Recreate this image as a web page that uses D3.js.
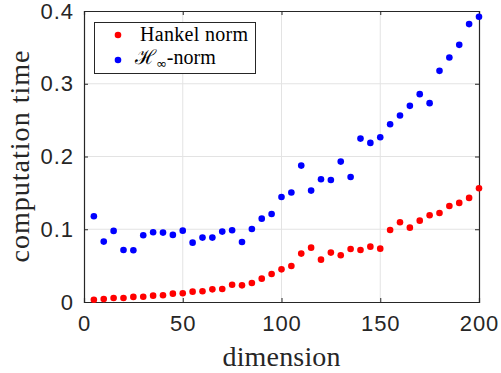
<!DOCTYPE html>
<html>
<head>
<meta charset="utf-8">
<script src="https://cdn.jsdelivr.net/npm/d3@7"></script>
<style>
  body { margin: 0; background: #fff; }
  svg { display: block; }
</style>
</head>
<body>
<div id="vis"></div>
<script>
// dimensions 5..200 step 5
var dims = [5, 10, 15, 20, 25, 30, 35, 40, 45, 50, 55, 60, 65, 70, 75, 80, 85, 90, 95, 100,
  105, 110, 115, 120, 125, 130, 135, 140, 145, 150, 155, 160, 165, 170, 175, 180, 185, 190, 195, 200];

var hankelTimes = [0.003, 0.004, 0.0055, 0.0055, 0.007, 0.0073, 0.0087, 0.0092, 0.0115, 0.012,
  0.0142, 0.0147, 0.0174, 0.0179, 0.0238, 0.0229, 0.0261, 0.0321, 0.0385, 0.0449,
  0.0495, 0.0665, 0.0747, 0.0582, 0.0679, 0.0642, 0.0729, 0.0715, 0.0761, 0.0733,
  0.0990, 0.1096, 0.1022, 0.1118, 0.1192, 0.1224, 0.1320, 0.1362, 0.1431, 0.1563];

var hinfTimes = [0.1179, 0.0830, 0.0977, 0.0715, 0.0711, 0.0917, 0.0959, 0.0954, 0.0922, 0.0981,
  0.0816, 0.0885, 0.0885, 0.0968, 0.0986, 0.0825, 0.1004, 0.1146, 0.1210, 0.1444,
  0.1506, 0.1875, 0.1531, 0.1688, 0.1678, 0.1930, 0.1719, 0.2246, 0.2187, 0.2265,
  0.2444, 0.2563, 0.2696, 0.2857, 0.2733, 0.3177, 0.3360, 0.3535, 0.3820, 0.3920];

var xTicks = [0, 50, 100, 150, 200];
var yTicks = [0, 0.1, 0.2, 0.3, 0.4];

var width = 501, height = 373;
var margin = {top: 11, right: 22, bottom: 71, left: 84};
var axisColor = "#262626";

var svg = d3.select("#vis").append("svg").attr("width", width).attr("height", height);

var x = d3.scaleLinear().domain([0, 200]).range([margin.left, width - margin.right]);
var y = d3.scaleLinear().domain([0, 0.4]).range([height - margin.bottom, margin.top]);

//grid
var grid = svg.append("g");
grid.selectAll(".gx").data(xTicks.slice(1, -1)).enter().append("line")
  .attr("x1", d => x(d)).attr("x2", d => x(d))
  .attr("y1", y(0)).attr("y2", y(0.4))
  .attr("stroke", "#e3e3e3").attr("stroke-width", 1);
grid.selectAll(".gy").data(yTicks.slice(1, -1)).enter().append("line")
  .attr("y1", d => y(d)).attr("y2", d => y(d))
  .attr("x1", x(0)).attr("x2", x(200))
  .attr("stroke", "#e3e3e3").attr("stroke-width", 1);

//axes, ticks inside, box on
var xAxisB = d3.axisBottom(x).tickValues(xTicks).tickSize(-4).tickPadding(13).tickFormat(d3.format("d"));
var xAxisT = d3.axisTop(x).tickValues(xTicks).tickSize(-4).tickFormat("");
var yAxisL = d3.axisLeft(y).tickValues(yTicks).tickSize(-4).tickPadding(10).tickFormat(d => d === 0 ? "0" : d3.format(".1f")(d));
var yAxisR = d3.axisRight(y).tickValues(yTicks).tickSize(-4).tickFormat("");

function styleAxis(g) {
  g.selectAll("path").attr("stroke", axisColor).attr("stroke-width", 1.2);
  g.selectAll("line").attr("stroke", axisColor);
  g.selectAll("text").attr("fill", axisColor)
    .style("font-family", "'Liberation Sans', Arial, sans-serif").style("font-size", "22px")
    .style("letter-spacing", "1px");
}

svg.append("g").attr("transform", "translate(0," + y(0) + ")").call(xAxisB).call(styleAxis);
svg.append("g").attr("transform", "translate(0," + y(0.4) + ")").call(xAxisT).call(styleAxis);
svg.append("g").attr("transform", "translate(" + x(0) + ",0)").call(yAxisL).call(styleAxis);
svg.append("g").attr("transform", "translate(" + x(200) + ",0)").call(yAxisR).call(styleAxis);

//points
svg.append("g").selectAll("circle").data(dims).enter().append("circle")
  .attr("cx", d => x(d)).attr("cy", (d, i) => y(hankelTimes[i]))
  .attr("r", 3.3).attr("fill", "#ff0000");
svg.append("g").selectAll("circle").data(dims).enter().append("circle")
  .attr("cx", d => x(d)).attr("cy", (d, i) => y(hinfTimes[i]))
  .attr("r", 3.3).attr("fill", "#0000ff");

//axis labels
var serif = "'Liberation Serif', 'Times New Roman', serif";
svg.append("text")
  .attr("x", (x(0) + x(200)) / 2).attr("y", 366)
  .attr("text-anchor", "middle")
  .attr("textLength", 118).attr("lengthAdjust", "spacing")
  .style("font-family", serif).style("font-size", "28px").attr("fill", axisColor)
  .text("dimension");
svg.append("text")
  .attr("transform", "translate(29," + ((y(0) + y(0.4)) / 2) + ") rotate(-90)")
  .attr("text-anchor", "middle")
  .attr("textLength", 212).attr("lengthAdjust", "spacing")
  .style("font-family", serif).style("font-size", "28px").attr("fill", axisColor)
  .text("computation time");

//legend
var legend = svg.append("g");
legend.append("rect")
  .attr("x", 94.5).attr("y", 22.5).attr("width", 161).attr("height", 51)
  .attr("fill", "#fff").attr("stroke", axisColor).attr("stroke-width", 1);
legend.append("circle").attr("cx", 118).attr("cy", 35).attr("r", 3.3).attr("fill", "#ff0000");
legend.append("circle").attr("cx", 118).attr("cy", 60).attr("r", 3.3).attr("fill", "#0000ff");
legend.append("text").attr("x", 140).attr("y", 40.5)
  .attr("textLength", 108).attr("lengthAdjust", "spacing")
  .style("font-family", serif).style("font-size", "20px").attr("fill", "#000")
  .text("Hankel norm");
var t2 = legend.append("text").attr("x", 135).attr("y", 64)
  .style("font-family", serif).style("font-size", "20px").attr("fill", "#000");
t2.append("tspan").style("font-family", "'DejaVu Serif', serif").text("\u210B");
t2.append("tspan").attr("dy", 4).style("font-size", "13px").style("font-family", "'DejaVu Sans', sans-serif").text("\u221E");
t2.append("tspan").attr("dy", -4).text("-norm");
</script>
</body>
</html>
